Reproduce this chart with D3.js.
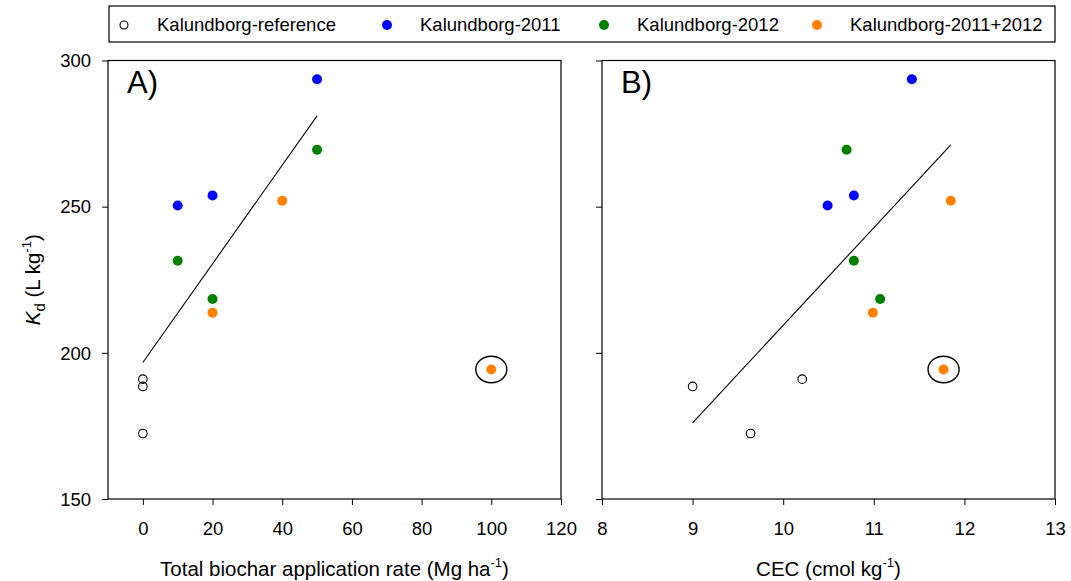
<!DOCTYPE html>
<html>
<head>
<meta charset="utf-8">
<script src="https://cdn.jsdelivr.net/npm/d3@7"></script>
<style>
  html, body { margin: 0; padding: 0; background: #fff; }
  svg { display: block; font-family: Arial, "Liberation Sans", sans-serif; }
</style>
</head>
<body>
<svg id="chart" width="1071" height="581"></svg>
<script>
// ---- Data ----
const seriesNames = ["Kalundborg-reference", "Kalundborg-2011", "Kalundborg-2012", "Kalundborg-2011+2012"];
const seriesColors = ["none", "#0000ff", "#008000", "#ff8000"];

const refRate = [0, 0, 0];
const refCEC = [10.21, 9.0, 9.64];
const refKd = [191.0, 188.5, 172.4];

const y2011Rate = [10, 20, 50];
const y2011CEC = [10.49, 10.78, 11.42];
const y2011Kd = [250.4, 253.8, 293.6];

const y2012Rate = [10, 20, 50];
const y2012CEC = [10.78, 11.07, 10.70];
const y2012Kd = [231.5, 218.4, 269.5];

const bothRate = [20, 40, 100];
const bothCEC = [10.99, 11.85, 11.77];
const bothKd = [213.7, 252.0, 194.3];
const bothOutlier = [false, false, true];   // circled point, excluded from the fit

const rateTicks = [0, 20, 40, 60, 80, 100, 120];
const cecTicks = [8, 9, 10, 11, 12, 13];
const kdTicks = [150, 200, 250, 300];

// ---- Build point table ----
const rates = [refRate, y2011Rate, y2012Rate, bothRate];
const cecs = [refCEC, y2011CEC, y2012CEC, bothCEC];
const kds = [refKd, y2011Kd, y2012Kd, bothKd];
const points = [];
seriesNames.forEach((name, s) => {
  kds[s].forEach((kd, i) => {
    points.push({ s, rate: rates[s][i], cec: cecs[s][i], kd,
                  outlier: s === 3 ? bothOutlier[i] : false });
  });
});

function fit(xs, ys) {
  const mx = d3.mean(xs), my = d3.mean(ys);
  let sxy = 0, sxx = 0;
  xs.forEach((x, i) => { sxy += (x - mx) * (ys[i] - my); sxx += (x - mx) ** 2; });
  const b = sxy / sxx, a = my - b * mx;
  const x0 = d3.min(xs), x1 = d3.max(xs);
  return [[x0, a + b * x0], [x1, a + b * x1]];
}

const svg = d3.select("#chart");
const plotTop = 60.5, plotBottom = 499;
const yScale = d3.scaleLinear().domain([150, 300]).range([plotBottom, plotTop]);

const panels = [
  { key: "rate", label: "A)", left: 108, right: 561, domain: [-10, 120], ticks: rateTicks,
    title: "Total biochar application rate (Mg ha", showY: true },
  { key: "cec", label: "B)", left: 602, right: 1055, domain: [8, 13], ticks: cecTicks,
    title: "CEC (cmol kg", showY: false }
];

panels.forEach(p => {
  const x = d3.scaleLinear().domain(p.domain).range([p.left, p.right]);
  const g = svg.append("g");

  // x axis
  const xa = g.append("g").attr("transform", `translate(0,${plotBottom})`)
    .call(d3.axisBottom(x).tickValues(p.ticks).tickSize(6).tickSizeOuter(0).tickFormat(d3.format("d")));
  xa.select(".domain").remove();
  xa.selectAll(".tick line").attr("stroke", "#000").attr("stroke-width", 1);
  xa.selectAll(".tick text").attr("font-size", 18.5).attr("fill", "#000")
    .attr("y", 36).attr("dy", 0);

  // y axis
  const ya = g.append("g").attr("transform", `translate(${p.left},0)`)
    .call(d3.axisLeft(yScale).tickValues(kdTicks).tickSize(6).tickSizeOuter(0));
  ya.select(".domain").remove();
  ya.selectAll(".tick line").attr("stroke", "#000").attr("stroke-width", 1);
  if (p.showY) {
    ya.selectAll(".tick text").attr("font-size", 18.5).attr("fill", "#000")
      .attr("x", -17).attr("dy", "0.34em");
  } else {
    ya.selectAll(".tick text").remove();
  }

  // frame
  g.append("rect").attr("x", p.left).attr("y", plotTop)
    .attr("width", p.right - p.left).attr("height", plotBottom - plotTop)
    .attr("fill", "none").attr("stroke", "#000").attr("stroke-width", 1.2);

  // panel label
  g.append("text").attr("x", p.left + 19).attr("y", 93)
    .attr("font-size", 31).attr("fill", "#000").text(p.label);

  // regression line (fit excludes the circled outlier)
  const fitPts = points.filter(d => !d.outlier);
  const line = fit(fitPts.map(d => d[p.key]), fitPts.map(d => d.kd));
  g.append("line")
    .attr("x1", x(line[0][0])).attr("y1", yScale(line[0][1]))
    .attr("x2", x(line[1][0])).attr("y2", yScale(line[1][1]))
    .attr("stroke", "#000").attr("stroke-width", 1.1);

  // points
  g.selectAll("circle.pt").data(points).enter().append("circle")
    .attr("class", "pt")
    .attr("cx", d => x(d[p.key])).attr("cy", d => yScale(d.kd))
    .attr("r", d => d.s === 0 ? 4.3 : 5)
    .attr("fill", d => d.s === 0 ? "none" : seriesColors[d.s])
    .attr("stroke", d => d.s === 0 ? "#000" : "none")
    .attr("stroke-width", 1.1);

  // outlier ellipse
  g.selectAll("ellipse.out").data(points.filter(d => d.outlier)).enter().append("ellipse")
    .attr("cx", d => x(d[p.key])).attr("cy", d => yScale(d.kd))
    .attr("rx", 15.5).attr("ry", 13.3)
    .attr("fill", "none").attr("stroke", "#000").attr("stroke-width", 1.4);

  // x title
  const t = g.append("text").attr("x", (p.left + p.right) / 2).attr("y", 576)
    .attr("text-anchor", "middle").attr("font-size", 20.5).attr("fill", "#000");
  t.append("tspan").text(p.title);
  t.append("tspan").attr("font-size", 13).attr("dy", -9).text("-1");
  t.append("tspan").attr("dy", 9).text(")");
});

// y title
const yt = svg.append("text")
  .attr("transform", `translate(40,${(plotTop + plotBottom) / 2}) rotate(-90)`)
  .attr("text-anchor", "middle").attr("font-size", 20.5).attr("fill", "#000");
yt.append("tspan").attr("font-style", "italic").text("K");
yt.append("tspan").attr("font-size", 15).attr("dy", 5).text("d");
yt.append("tspan").attr("dy", -5).text(" (L kg");
yt.append("tspan").attr("font-size", 13).attr("dy", -9).text("-1");
yt.append("tspan").attr("dy", 9).text(")");

// legend
const legend = svg.append("g");
legend.append("rect").attr("x", 109).attr("y", 6).attr("width", 946).attr("height", 36)
  .attr("fill", "#fff").attr("stroke", "#000").attr("stroke-width", 1.2);
const legSymX = [124, 387, 604, 817];
const legItems = legend.selectAll("g.item").data(seriesNames).enter().append("g")
  .attr("transform", (d, i) => `translate(${legSymX[i]},25)`);
legItems.append("circle")
  .attr("r", (d, i) => i === 0 ? 4 : 5)
  .attr("fill", (d, i) => i === 0 ? "none" : seriesColors[i])
  .attr("stroke", (d, i) => i === 0 ? "#000" : "none")
  .attr("stroke-width", 1.1);
legItems.append("text").attr("x", 33).attr("dy", "0.35em")
  .attr("font-size", 18.5).attr("fill", "#000").text(d => d);
</script>
</body>
</html>
